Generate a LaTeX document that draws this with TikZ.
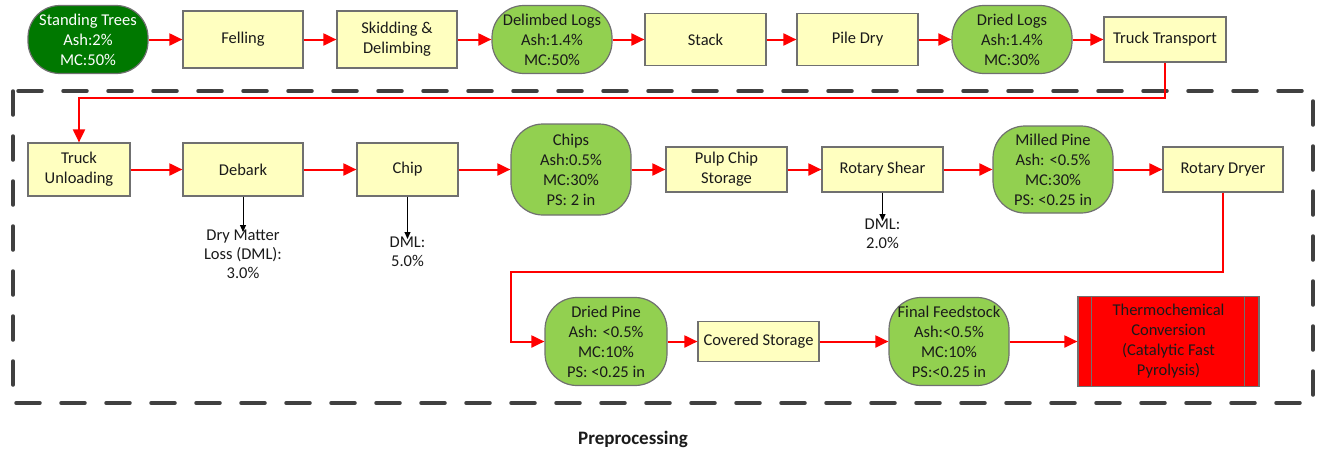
\documentclass[tikz,border=0pt]{standalone}
\usepackage{fontspec}
\setmainfont{Carlito}
\usetikzlibrary{arrows.meta}
\definecolor{boxfill}{HTML}{FFFFC0}
\definecolor{boxdraw}{HTML}{707070}
\definecolor{lgreen}{HTML}{92D050}
\definecolor{dgreen}{HTML}{007800}
\definecolor{framecol}{HTML}{404040}
\definecolor{txt}{HTML}{1A1A1A}
\definecolor{flowred}{HTML}{FF0000}
\begin{document}
\begin{tikzpicture}[x=1pt,y=-1pt,
  every node/.style={font=\fontsize{16.5}{20}\selectfont, text=txt},
  proc/.style={draw=boxdraw, fill=boxfill, line width=1.2pt, rectangle, align=center, inner sep=0pt},
  mat/.style={draw=boxdraw, fill=lgreen, line width=1.2pt, rectangle, rounded corners=32pt, align=center, inner sep=0pt},
  matdark/.style={mat, fill=dgreen, text=white},
  thermobox/.style={draw=boxdraw, fill=flowred, line width=1.2pt, rectangle, align=center, inner sep=0pt},
  flow/.style={draw=flowred, line width=2pt, -{Triangle[length=13pt,width=12pt]}},
  loss/.style={draw=black, line width=0.9pt, -{Triangle[length=7pt,width=6pt]}, shorten >=-2pt},
  dmlab/.style={anchor=north, align=center, inner sep=0pt, font=\fontsize{16.5}{19}\selectfont},
  framestyle/.style={draw=framecol, line width=3.5pt, dash pattern=on 24pt off 21pt, line cap=round}
]
\useasboundingbox (0,0) rectangle (1319,450);

% dashed preprocessing frame
\draw[framestyle] (13,91) rectangle (1313,403);

% top row
\node[matdark, minimum width=120pt, minimum height=68pt] (trees) at (88,39.5) {Standing Trees\\Ash:2\%\\MC:50\%};
\node[proc, minimum width=120pt, minimum height=57pt] (felling) at (243,39.5) {Felling};
\node[proc, minimum width=120pt, minimum height=57pt] (skid) at (397,39.5) {Skidding \&\\Delimbing};
\node[mat, minimum width=120pt, minimum height=68pt] (delimbed) at (552,39.5) {Delimbed Logs\\Ash:1.4\%\\MC:50\%};
\node[proc, minimum width=121pt, minimum height=52pt] (stack) at (705.5,39.5) {Stack};
\node[proc, minimum width=121pt, minimum height=52pt] (piledry) at (857.5,39.5) {Pile Dry};
\node[mat, minimum width=120pt, minimum height=68pt] (driedlogs) at (1012,39.5) {Dried Logs\\Ash:1.4\%\\MC:30\%};
\node[proc, minimum width=122pt, minimum height=45pt] (truckT) at (1165,39.5) {Truck Transport};

% second row
\node[proc, minimum width=102pt, minimum height=53pt] (unload) at (79,169.5) {Truck\\Unloading};
\node[proc, minimum width=120pt, minimum height=53pt] (debark) at (243,169.5) {Debark};
\node[proc, minimum width=101pt, minimum height=53pt] (chip) at (407.5,169.5) {Chip};
\node[mat, minimum width=120pt, minimum height=91pt] (chips) at (571,169.5) {Chips\\Ash:0.5\%\\MC:30\%\\PS: 2 in};
\node[proc, minimum width=121pt, minimum height=45pt] (pulp) at (726.5,169.5) {Pulp Chip\\Storage};
\node[proc, minimum width=121pt, minimum height=45pt] (shear) at (882.5,169.5) {Rotary Shear};
\node[mat, minimum width=120pt, minimum height=87pt] (milled) at (1053,169.5) {Milled Pine\\Ash: <0.5\%\\MC:30\%\\PS: <0.25 in};
\node[proc, minimum width=120pt, minimum height=45pt] (dryer) at (1223,169.5) {Rotary Dryer};

% loss labels
\node[dmlab] (dml1) at (243,230) {Dry Matter\\Loss (DML):\\3.0\%};
\node[dmlab] (dml2) at (407.5,237) {DML:\\5.0\%};
\node[dmlab] (dml3) at (882.5,219) {DML:\\2.0\%};

% third row
\node[mat, minimum width=122pt, minimum height=88pt] (driedpine) at (606,341.5) {Dried Pine\\Ash: <0.5\%\\MC:10\%\\PS: <0.25 in};
\node[proc, minimum width=121pt, minimum height=40pt] (covered) at (758.5,341.5) {Covered Storage};
\node[mat, minimum width=120pt, minimum height=88pt] (final) at (949,341.5) {Final Feedstock\\Ash:<0.5\%\\MC:10\%\\PS:<0.25 in};
\node[thermobox, minimum width=181pt, minimum height=90pt] (thermo) at (1168.5,341.5) {Thermochemical\\Conversion\\(Catalytic Fast\\Pyrolysis)};
\draw[boxdraw, line width=1.2pt] ([xshift=14pt]thermo.north west) -- ([xshift=14pt]thermo.south west);
\draw[boxdraw, line width=1.2pt] ([xshift=-15pt]thermo.north east) -- ([xshift=-15pt]thermo.south east);

\node[font=\bfseries\fontsize{19}{22}\selectfont] (prep) at (633,439) {Preprocessing};

% bend points
\coordinate (bendA) at (79,98);
\coordinate (bendB) at (511,272);

% flows
\draw[flow] (trees) -- (felling);
\draw[flow] (felling) -- (skid);
\draw[flow] (skid) -- (delimbed);
\draw[flow] (delimbed) -- (stack);
\draw[flow] (stack) -- (piledry);
\draw[flow] (piledry) -- (driedlogs);
\draw[flow] (driedlogs) -- (truckT);
\draw[flow] (truckT.south) |- (bendA) -- (unload.north);
\draw[flow] (unload) -- (debark);
\draw[flow] (debark) -- (chip);
\draw[flow] (chip) -- (chips);
\draw[flow] (chips) -- (pulp);
\draw[flow] (pulp) -- (shear);
\draw[flow] (shear) -- (milled);
\draw[flow] (milled) -- (dryer);
\draw[flow] (dryer.south) |- (bendB) |- (driedpine.west);
\draw[flow] (driedpine) -- (covered);
\draw[flow] (covered) -- (final);
\draw[flow] (final) -- (thermo);

% losses
\draw[loss] (debark.south) -- (dml1.north);
\draw[loss] (chip.south) -- (dml2.north);
\draw[loss] (shear.south) -- (dml3.north);
\end{tikzpicture}
\end{document}
